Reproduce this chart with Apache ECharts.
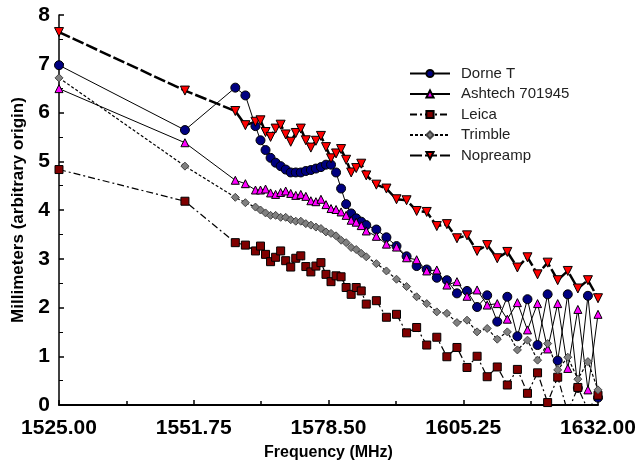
<!DOCTYPE html>
<html>
<head>
<meta charset="utf-8">
<script src="https://cdn.jsdelivr.net/npm/echarts@6/dist/echarts.min.js"></script>
<style>
  html, body { margin: 0; padding: 0; background: #fff; }
  #chart { width: 636px; height: 470px; }
</style>
</head>
<body>
<div id="chart"></div>
<script>
// frequency grid (MHz)
var freqs = [1525, 1550, 1560, 1562, 1564, 1565, 1566, 1567, 1568, 1569,
  1570, 1571, 1572, 1573, 1574, 1575, 1576, 1577, 1578, 1579,
  1580, 1581, 1582, 1583, 1584, 1585, 1586, 1588, 1590, 1592,
  1594, 1596, 1598, 1600, 1602, 1604, 1606, 1608, 1610, 1612,
  1614, 1616, 1618, 1620, 1622, 1624, 1626, 1628, 1630, 1632]

var dorneT = [6.97, 5.64, 6.51, 6.35, 5.72, 5.43, 5.23, 5.07, 4.97, 4.90,
  4.83, 4.77, 4.77, 4.77, 4.80, 4.82, 4.85, 4.88, 4.93, 4.93,
  4.77, 4.44, 4.12, 3.93, 3.83, 3.76, 3.69, 3.60, 3.44, 3.26,
  3.05, 2.85, 2.78, 2.61, 2.56, 2.29, 2.34, 2.01, 2.25, 1.71,
  2.22, 1.41, 2.17, 1.23, 2.27, 0.91, 2.27, 0.35, 2.24, 0.15]

var ashtech = [6.49, 5.38, 4.61, 4.54, 4.41, 4.41, 4.43, 4.35, 4.32, 4.36,
  4.39, 4.34, 4.30, 4.32, 4.28, 4.19, 4.17, 4.22, 4.11, 4.03,
  4.01, 3.96, 3.89, 3.79, 3.75, 3.68, 3.57, 3.46, 3.30, 3.24,
  3.02, 2.98, 2.75, 2.77, 2.46, 2.53, 2.23, 2.36, 2.05, 2.08,
  1.76, 2.10, 1.54, 2.08, 1.15, 2.08, 0.75, 1.96, 0.31, 1.86]

var leica = [4.83, 4.18, 3.33, 3.28, 3.16, 3.26, 3.09, 2.94, 3.03, 3.16,
  2.96, 2.83, 3.01, 3.06, 2.84, 2.73, 2.85, 2.92, 2.68, 2.53,
  2.65, 2.63, 2.41, 2.27, 2.41, 2.34, 2.07, 2.14, 1.80, 1.86,
  1.48, 1.59, 1.23, 1.39, 0.99, 1.18, 0.77, 1.00, 0.58, 0.78,
  0.41, 0.73, 0.24, 0.66, 0.05, 0.57, -0.15, 0.36, -0.10, 0.20]

var trimble = [6.71, 4.90, 4.26, 4.15, 4.06, 4.00, 3.94, 3.89, 3.89, 3.85,
  3.85, 3.80, 3.77, 3.77, 3.72, 3.69, 3.65, 3.62, 3.55, 3.52,
  3.47, 3.38, 3.33, 3.23, 3.19, 3.11, 3.04, 2.90, 2.75, 2.58,
  2.43, 2.22, 2.08, 1.91, 1.88, 1.69, 1.74, 1.50, 1.57, 1.35,
  1.50, 1.13, 1.33, 0.92, 1.26, 0.72, 0.98, 0.53, 0.89, 0.31]

var nopreamp = [7.65, 6.45, 6.03, 5.74, 5.81, 5.84, 5.60, 5.50, 5.67, 5.75,
  5.55, 5.40, 5.58, 5.67, 5.43, 5.28, 5.42, 5.52, 5.29, 5.06,
  5.16, 5.25, 5.03, 4.77, 4.86, 4.95, 4.71, 4.52, 4.44, 4.22,
  4.20, 3.98, 3.96, 3.67, 3.71, 3.42, 3.48, 3.16, 3.28, 3.01,
  3.14, 2.82, 3.03, 2.68, 2.92, 2.56, 2.75, 2.39, 2.56, 2.19]

var font = "'Liberation Sans', Arial, sans-serif"
var downTri = 'path://M0,0 L10,0 L5,9 Z'

function pairs(arr) {
  return freqs.map(function (f, i) { return [f, arr[i]] })
}

function makeSeries(name, arr, symbol, size, fill, border, line) {
  return {
    name: name,
    type: 'line',
    data: pairs(arr),
    symbol: symbol,
    symbolSize: size,
    showAllSymbol: true,
    clip: true,
    lineStyle: line,
    itemStyle: { color: fill, borderColor: border, borderWidth: 1, opacity: 1 },
    emphasis: { disabled: true }
  }
}

var chart = echarts.init(document.getElementById('chart'))
var option = {
  animation: false,
  textStyle: { fontFamily: font },
  grid: { left: 59, right: 38, top: 15, bottom: 65, containLabel: false, outerBoundsMode: 'none' },
  legend: {
    orient: 'vertical',
    left: 404,
    top: 61,
    itemWidth: 40,
    itemHeight: 9,
    itemGap: 5.5,
    textStyle: { fontFamily: font, fontSize: 15, color: '#222', padding: [0, 0, 0, 6] },
    data: ['Dorne T', 'Ashtech 701945', 'Leica', 'Trimble', 'Nopreamp']
  },
  xAxis: {
    type: 'value',
    min: 1525,
    max: 1632,
    interval: 26.75,
    name: 'Frequency (MHz)',
    nameLocation: 'middle',
    nameGap: 40,
    nameTextStyle: { fontFamily: font, fontSize: 16, fontWeight: 'bold', color: '#000' },
    axisLine: { lineStyle: { color: '#000', width: 2 } },
    axisTick: { inside: true, length: 5, lineStyle: { color: '#000', width: 1.5 } },
    minorTick: { show: true, splitNumber: 2, length: 4, lineStyle: { color: '#000', width: 1.5 } },
    splitLine: { show: false },
    axisLabel: {
      fontFamily: font, fontSize: 21, fontWeight: 'bold', color: '#000', margin: 13,
      formatter: function (v) { return v.toFixed(2) }
    }
  },
  yAxis: {
    type: 'value',
    min: 0,
    max: 8,
    interval: 1,
    name: 'Millimeters (arbitrary origin)',
    nameLocation: 'middle',
    nameGap: 32,
    nameTextStyle: { fontFamily: font, fontSize: 17, fontWeight: 'bold', color: '#000' },
    axisLine: { show: true, lineStyle: { color: '#000', width: 1.5 } },
    axisTick: { show: true, inside: true, length: 5, lineStyle: { color: '#000', width: 1.5 } },
    minorTick: { show: true, splitNumber: 2, length: 4, lineStyle: { color: '#000', width: 1 } },
    splitLine: { show: false },
    axisLabel: { fontFamily: font, fontSize: 21, fontWeight: 'bold', color: '#000', margin: 9 }
  },
  series: [
    makeSeries('Dorne T', dorneT, 'circle', 9, '#000080', '#000', { color: '#000', width: 1 }),
    makeSeries('Ashtech 701945', ashtech, 'triangle', 8, '#ff00ff', '#000', { color: '#000', width: 1 }),
    makeSeries('Leica', leica, 'rect', 8, '#800000', '#000', { color: '#000', width: 1.2, type: [7, 3, 2, 3] }),
    makeSeries('Trimble', trimble, 'diamond', 8, '#808080', '#444', { color: '#000', width: 1.2, type: [3, 2] }),
    makeSeries('Nopreamp', nopreamp, downTri, 9, '#ff0000', '#000', { color: '#000', width: 2.5, type: [12, 3] })
  ]
}
chart.setOption(option)
</script>
</body>
</html>
